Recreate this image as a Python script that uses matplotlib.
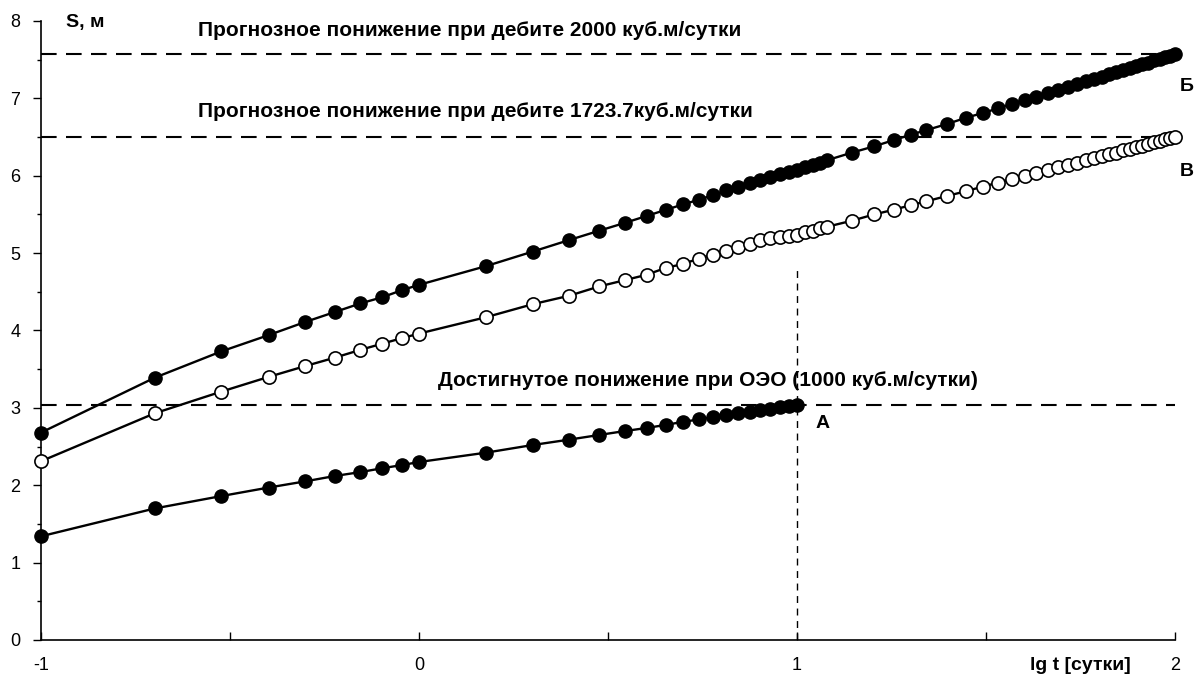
import numpy as np
import matplotlib
matplotlib.use('Agg')
import matplotlib.pyplot as plt
from matplotlib.ticker import MultipleLocator

plt.rcParams['font.family'] = ['Liberation Sans', 'DejaVu Sans']
plt.rcParams['axes.unicode_minus'] = False

# время, сутки
t_oeo = [0.1, 0.2, 0.3, 0.4, 0.5, 0.6, 0.7, 0.8, 0.9,
         1, 1.5, 2, 2.5, 3, 3.5, 4, 4.5, 5, 5.5, 6, 6.5, 7, 7.5, 8, 8.5, 9, 9.5, 10]
t_prog = [0.1, 0.2, 0.3, 0.4, 0.5, 0.6, 0.7, 0.8, 0.9,
          1, 1.5, 2, 2.5, 3, 3.5, 4, 4.5, 5, 5.5, 6, 6.5, 7, 7.5, 8, 8.5, 9, 9.5, 10,
          10.5, 11, 11.5, 12, 14, 16, 18, 20, 22,
          25, 28, 31, 34, 37, 40, 43, 46, 49, 52, 55, 58, 61, 64, 67, 70,
          73, 76, 79, 82, 85, 88, 91, 94, 97, 100]

# понижение, м
s_a = [1.34, 1.70, 1.86, 1.97, 2.05, 2.12, 2.17, 2.22, 2.26,
       2.30, 2.42, 2.52, 2.59, 2.65, 2.70, 2.74, 2.78, 2.82, 2.85, 2.88, 2.91, 2.93,
       2.95, 2.97, 2.99, 3.01, 3.02, 3.04]
s_b = [2.68, 3.39, 3.73, 3.94, 4.11, 4.24, 4.35, 4.43, 4.52,
       4.59, 4.83, 5.02, 5.17, 5.29, 5.39, 5.48, 5.56, 5.63, 5.69, 5.75, 5.81, 5.85,
       5.90, 5.94, 5.98, 6.02, 6.05, 6.08,
       6.11, 6.14, 6.17, 6.20, 6.30, 6.38, 6.46, 6.53, 6.59,
       6.67, 6.75, 6.81, 6.87, 6.93, 6.98, 7.02, 7.07, 7.11, 7.15, 7.18, 7.22,
       7.25, 7.28, 7.31, 7.34, 7.37, 7.39, 7.42, 7.44, 7.46, 7.49, 7.51, 7.53,
       7.55, 7.57]
s_v = [2.31, 2.93, 3.21, 3.40, 3.54, 3.65, 3.75, 3.83, 3.90,
       3.96, 4.17, 4.34, 4.45, 4.57, 4.65, 4.72, 4.81, 4.86, 4.93, 4.98, 5.03, 5.08,
       5.12, 5.17, 5.19, 5.21, 5.22, 5.24,
       5.27, 5.29, 5.32, 5.34, 5.42, 5.50, 5.56, 5.62, 5.67,
       5.74, 5.80, 5.86, 5.91, 5.96, 6.00, 6.04, 6.08, 6.11, 6.14, 6.17, 6.20,
       6.23, 6.26, 6.28, 6.30, 6.33, 6.35, 6.37, 6.39, 6.41, 6.43, 6.45, 6.47,
       6.49, 6.50]

s_2000 = 7.57
s_1723 = 6.50
s_1000 = 3.04

fig = plt.figure(figsize=(11.99, 6.88), dpi=100)
ax = fig.add_axes([0.0342, 0.0698, 0.9458, 0.8997])

# горизонтальные линии
for lvl in [s_2000, s_1723, s_1000]:
    ax.plot([-1, 2], [lvl, lvl], color='black', lw=1.5, dashes=(7.5, 4.5), zorder=1)
ax.plot([1, 1], [0, 4.78], color='black', lw=1, dashes=(5, 4), zorder=1)

ax.plot(np.log10(t_oeo), s_a, color='black', lw=1.7, marker='o', markersize=9.5,
        markerfacecolor='black', markeredgecolor='black', zorder=3, clip_on=False)
ax.plot(np.log10(t_prog), s_b, color='black', lw=1.7, marker='o', markersize=9.5,
        markerfacecolor='black', markeredgecolor='black', zorder=3, clip_on=False)
ax.plot(np.log10(t_prog), s_v, color='black', lw=1.7, marker='o', markersize=9.5,
        markerfacecolor='white', markeredgecolor='black', markeredgewidth=1.2,
        zorder=3, clip_on=False)

fs = 15
ax.text(-0.585, 7.88, 'Прогнозное понижение при дебите 2000 куб.м/сутки',
        fontsize=fs, fontweight='bold', va='center')
ax.text(-0.585, 6.83, 'Прогнозное понижение при дебите 1723.7куб.м/сутки',
        fontsize=fs, fontweight='bold', va='center')
ax.text(0.05, 3.35, 'Достигнутое понижение при ОЭО (1000 куб.м/сутки)',
        fontsize=fs, fontweight='bold', va='center')
ax.text(2.013, 7.15, 'Б', fontsize=14, fontweight='bold', va='center', clip_on=False)
ax.text(2.013, 6.06, 'В', fontsize=14, fontweight='bold', va='center', clip_on=False)
ax.text(1.05, 2.80, 'А', fontsize=14, fontweight='bold', va='center')
ax.text(-0.935, 7.98, 'S, м', fontsize=14, fontweight='bold', va='center', clip_on=False)
ax.text(1.882, -0.33, 'lg t [сутки]', fontsize=14, fontweight='bold', va='center',
        ha='right', clip_on=False)

ax.set_xlim(-1, 2)
ax.set_ylim(0, 8)
ax.spines['top'].set_visible(False)
ax.spines['right'].set_visible(False)
ax.spines['left'].set_linewidth(1.2)
ax.spines['bottom'].set_linewidth(1.2)
ax.xaxis.set_major_locator(MultipleLocator(1))
ax.xaxis.set_minor_locator(MultipleLocator(0.5))
ax.yaxis.set_major_locator(MultipleLocator(1))
ax.yaxis.set_minor_locator(MultipleLocator(0.5))
ax.tick_params(axis='x', which='both', direction='in', length=6, width=1, labelsize=13, pad=12)
ax.tick_params(axis='y', which='major', direction='out', length=6, width=1, labelsize=13, pad=9)
ax.tick_params(axis='y', which='minor', direction='out', length=3, width=1)

fig.savefig('out.png', dpi=100)
